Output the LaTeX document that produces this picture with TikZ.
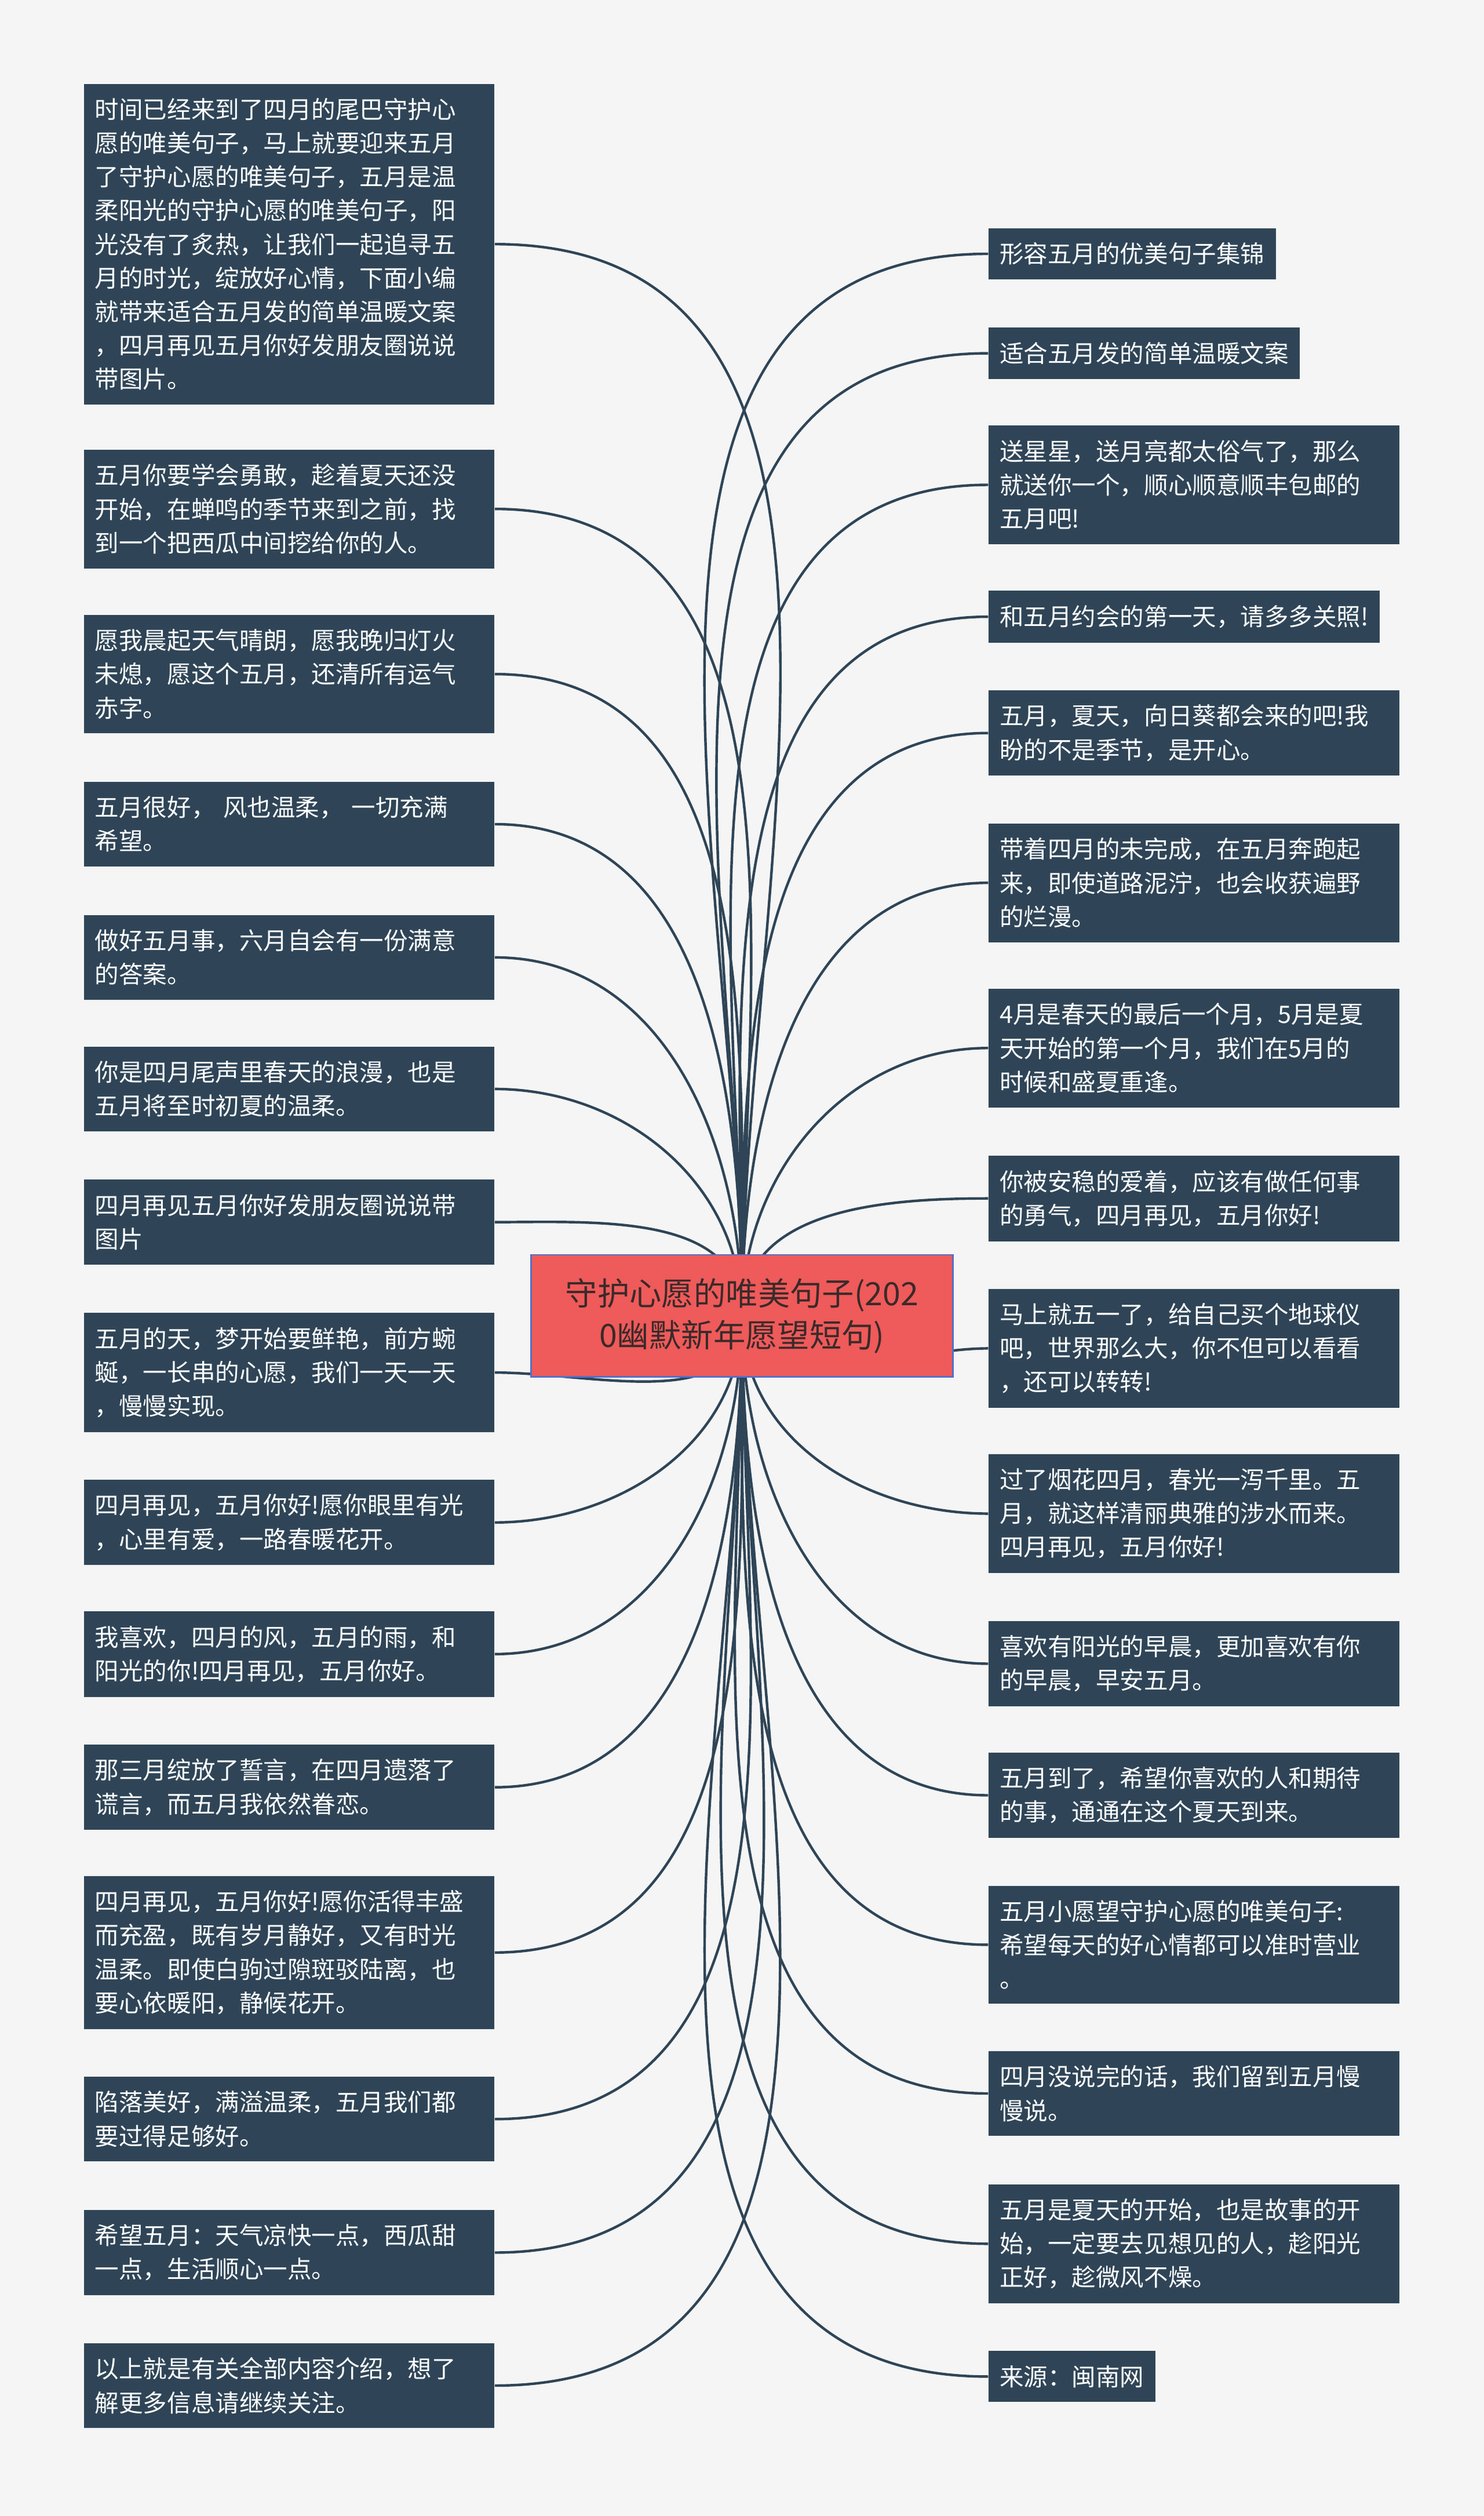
\documentclass[tikz,border=0pt]{standalone}
\usepackage{fontspec}
\setmainfont{Noto Sans CJK SC}
\usetikzlibrary{backgrounds}
\definecolor{boxc}{HTML}{2F4557}
\definecolor{cen}{HTML}{EF5A5A}
\definecolor{cenb}{HTML}{5470C8}
\definecolor{bg}{HTML}{F5F5F5}
\definecolor{ctext}{HTML}{3A2A2A}
\tikzset{
 bx/.style={fill=boxc,text=white,anchor=north west,align=left,inner xsep=7pt,inner ysep=9pt,font=\fontsize{15}{21}\selectfont},
 lb/.style={bx,text width=242pt},
 rbm/.style={bx,text width=242pt},
 rbs/.style={bx},
 con/.style={draw=boxc,line width=1.6pt}
}
\begin{document}
\begin{tikzpicture}[x=1pt,y=-1pt]
\useasboundingbox (0,0) rectangle (925,1568);
\node[fill=cen,draw=cenb,line width=1pt,minimum width=263pt,minimum height=76pt,align=center,text=ctext,font=\fontsize{20}{26}\selectfont] (C) at (462.5,820) {守护心愿的唯美句子(202\\0幽默新年愿望短句)};
\node[lb] (L1) at (52,52) {时间已经来到了四月的尾巴守护心\\愿的唯美句子，马上就要迎来五月\\了守护心愿的唯美句子，五月是温\\柔阳光的守护心愿的唯美句子，阳\\光没有了炙热，让我们一起追寻五\\月的时光，绽放好心情，下面小编\\就带来适合五月发的简单温暖文案\\，四月再见五月你好发朋友圈说说\\带图片。};
\node[lb] (L2) at (52,280) {五月你要学会勇敢，趁着夏天还没\\开始，在蝉鸣的季节来到之前，找\\到一个把西瓜中间挖给你的人。};
\node[lb] (L3) at (52,383) {愿我晨起天气晴朗，愿我晚归灯火\\未熄，愿这个五月，还清所有运气\\赤字。};
\node[lb] (L4) at (52,487) {五月很好， 风也温柔， 一切充满\\希望。};
\node[lb] (L5) at (52,570) {做好五月事，六月自会有一份满意\\的答案。};
\node[lb] (L6) at (52,652) {你是四月尾声里春天的浪漫，也是\\五月将至时初夏的温柔。};
\node[lb] (L7) at (52,735) {四月再见五月你好发朋友圈说说带\\图片};
\node[lb] (L8) at (52,818) {五月的天，梦开始要鲜艳，前方蜿\\蜒，一长串的心愿，我们一天一天\\，慢慢实现。};
\node[lb] (L9) at (52,922) {四月再见，五月你好!愿你眼里有光\\，心里有爱，一路春暖花开。};
\node[lb] (L10) at (52,1004) {我喜欢，四月的风，五月的雨，和\\阳光的你!四月再见，五月你好。};
\node[lb] (L11) at (52,1087) {那三月绽放了誓言，在四月遗落了\\谎言，而五月我依然眷恋。};
\node[lb] (L12) at (52,1169) {四月再见，五月你好!愿你活得丰盛\\而充盈，既有岁月静好，又有时光\\温柔。即使白驹过隙斑驳陆离，也\\要心依暖阳，静候花开。};
\node[lb] (L13) at (52,1294) {陷落美好，满溢温柔，五月我们都\\要过得足够好。};
\node[lb] (L14) at (52,1377) {希望五月：天气凉快一点，西瓜甜\\一点，生活顺心一点。};
\node[lb] (L15) at (52,1460) {以上就是有关全部内容介绍，想了\\解更多信息请继续关注。};
\node[rbs] (R1) at (616,142) {形容五月的优美句子集锦};
\node[rbs] (R2) at (616,204) {适合五月发的简单温暖文案};
\node[rbm] (R3) at (616,265) {送星星，送月亮都太俗气了，那么\\就送你一个，顺心顺意顺丰包邮的\\五月吧!};
\node[rbs] (R4) at (616,368) {和五月约会的第一天，请多多关照!};
\node[rbm] (R5) at (616,430) {五月，夏天，向日葵都会来的吧!我\\盼的不是季节，是开心。};
\node[rbm] (R6) at (616,513) {带着四月的未完成，在五月奔跑起\\来，即使道路泥泞，也会收获遍野\\的烂漫。};
\node[rbm] (R7) at (616,616) {4月是春天的最后一个月，5月是夏\\天开始的第一个月，我们在5月的\\时候和盛夏重逢。};
\node[rbm] (R8) at (616,720) {你被安稳的爱着，应该有做任何事\\的勇气，四月再见，五月你好!};
\node[rbm] (R9) at (616,803) {马上就五一了，给自己买个地球仪\\吧，世界那么大，你不但可以看看\\，还可以转转!};
\node[rbm] (R10) at (616,906) {过了烟花四月，春光一泻千里。五\\月，就这样清丽典雅的涉水而来。\\四月再见，五月你好!};
\node[rbm] (R11) at (616,1010) {喜欢有阳光的早晨，更加喜欢有你\\的早晨，早安五月。};
\node[rbm] (R12) at (616,1092) {五月到了，希望你喜欢的人和期待\\的事，通通在这个夏天到来。};
\node[rbm] (R13) at (616,1175) {五月小愿望守护心愿的唯美句子:\\希望每天的好心情都可以准时营业\\。};
\node[rbm] (R14) at (616,1278) {四月没说完的话，我们留到五月慢\\慢说。};
\node[rbm] (R15) at (616,1361) {五月是夏天的开始，也是故事的开\\始，一定要去见想见的人，趁阳光\\正好，趁微风不燥。};
\node[rbs] (R16) at (616,1465) {来源：闽南网};
\begin{scope}[on background layer]
\fill[bg] (0,0) rectangle (925,1568);
\foreach \n in {1,...,7} \draw[con] (C.center) to[out=90,in=0] (L\n.east);
\foreach \n in {8,...,15} \draw[con] (C.center) to[out=270,in=0] (L\n.east);
\foreach \n in {1,...,8} \draw[con] (C.center) to[out=90,in=180] (R\n.west);
\foreach \n in {9,...,16} \draw[con] (C.center) to[out=270,in=180] (R\n.west);
\end{scope}
\end{tikzpicture}
\end{document}
